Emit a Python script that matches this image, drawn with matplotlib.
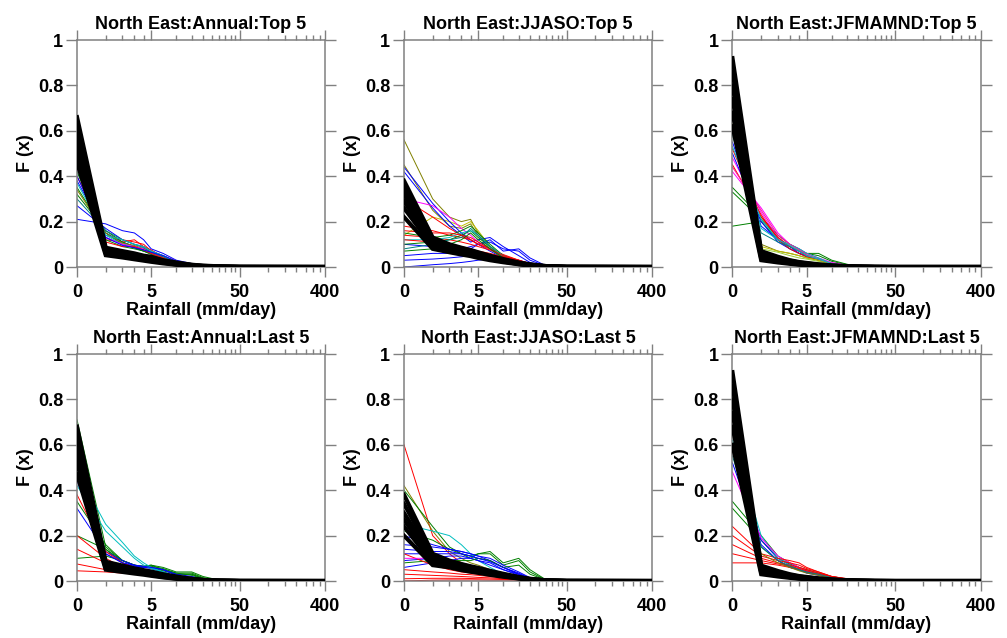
import numpy as np
import matplotlib
matplotlib.use("Agg")
import matplotlib.pyplot as plt

plt.rcParams['font.family'] = ['Liberation Sans', 'DejaVu Sans']

# rainfall bins (mm/day)
rain = [0, 1, 2, 3, 4, 5, 7, 10, 15, 20, 30, 50, 400]

titles = ["North East:Annual:Top 5", "North East:JJASO:Top 5", "North East:JFMAMND:Top 5",
          "North East:Annual:Last 5", "North East:JJASO:Last 5", "North East:JFMAMND:Last 5"]

# ---- Annual : Top 5 ----
annual_top_black = [
    [0.66, 0.085, 0.070, 0.060, 0.050, 0.045, 0.030, 0.020, 0.010, 0.006, 0.003, 0.001, 0],
    [0.62, 0.078, 0.064, 0.054, 0.046, 0.040, 0.027, 0.017, 0.009, 0.005, 0.002, 0.001, 0],
    [0.58, 0.072, 0.058, 0.049, 0.042, 0.036, 0.025, 0.015, 0.008, 0.004, 0.002, 0, 0],
    [0.54, 0.066, 0.053, 0.044, 0.037, 0.032, 0.022, 0.013, 0.006, 0.003, 0.001, 0, 0],
    [0.50, 0.060, 0.048, 0.039, 0.033, 0.028, 0.019, 0.011, 0.005, 0.003, 0.001, 0, 0],
    [0.46, 0.052, 0.042, 0.034, 0.028, 0.023, 0.016, 0.010, 0.005, 0.002, 0.001, 0, 0],
]
annual_top_col = [
    [0.21, 0.19, 0.16, 0.15, 0.12, 0.08, 0.06, 0.03, 0.015, 0.008, 0.003, 0.001, 0],
    [0.27, 0.17, 0.12, 0.10, 0.09, 0.07, 0.05, 0.025, 0.010, 0.005, 0.002, 0, 0],
    [0.38, 0.15, 0.11, 0.09, 0.075, 0.07, 0.045, 0.02, 0.010, 0.004, 0.001, 0, 0],
    [0.47, 0.13, 0.10, 0.085, 0.07, 0.06, 0.04, 0.02, 0.008, 0.004, 0.001, 0, 0],
    [0.40, 0.14, 0.12, 0.11, 0.10, 0.07, 0.05, 0.025, 0.010, 0.005, 0.002, 0, 0],
    [0.44, 0.12, 0.11, 0.12, 0.09, 0.075, 0.045, 0.02, 0.008, 0.004, 0.001, 0, 0],
    [0.32, 0.16, 0.11, 0.09, 0.08, 0.06, 0.04, 0.025, 0.012, 0.006, 0.002, 0, 0],
    [0.35, 0.15, 0.10, 0.085, 0.07, 0.06, 0.04, 0.02, 0.010, 0.005, 0.002, 0, 0],
    [0.42, 0.14, 0.10, 0.09, 0.08, 0.07, 0.05, 0.02, 0.008, 0.003, 0.001, 0, 0],
    [0.34, 0.15, 0.105, 0.095, 0.08, 0.065, 0.045, 0.02, 0.009, 0.004, 0.001, 0, 0],
    [0.43, 0.13, 0.10, 0.09, 0.08, 0.06, 0.04, 0.02, 0.008, 0.004, 0.001, 0, 0],
    [0.30, 0.16, 0.12, 0.10, 0.085, 0.065, 0.045, 0.022, 0.010, 0.005, 0.002, 0, 0],
    [0.42, 0.12, 0.09, 0.08, 0.07, 0.055, 0.035, 0.018, 0.008, 0.004, 0.001, 0, 0],
    [0.45, 0.11, 0.09, 0.09, 0.075, 0.06, 0.04, 0.015, 0.006, 0.003, 0.001, 0, 0],
    [0.37, 0.14, 0.12, 0.10, 0.09, 0.07, 0.05, 0.022, 0.009, 0.004, 0.001, 0, 0],
    [0.40, 0.13, 0.095, 0.085, 0.075, 0.065, 0.05, 0.025, 0.010, 0.004, 0.001, 0, 0],
]
annual_top_colors = ["blue", "blue", "blue", "blue", "red", "red", "green", "green",
                     "c", "olive", "magenta", "teal", "green", "red", "c", "blue"]

# ---- JJASO : Top 5 ----
jjaso_top_black = [
    [0.38, 0.13, 0.100, 0.085, 0.075, 0.065, 0.050, 0.035, 0.020, 0.012, 0.004, 0.001, 0],
    [0.35, 0.12, 0.095, 0.080, 0.070, 0.060, 0.045, 0.032, 0.018, 0.010, 0.004, 0.001, 0],
    [0.32, 0.11, 0.085, 0.075, 0.065, 0.055, 0.042, 0.030, 0.016, 0.009, 0.003, 0.001, 0],
    [0.29, 0.10, 0.080, 0.065, 0.058, 0.050, 0.038, 0.027, 0.015, 0.008, 0.003, 0, 0],
    [0.26, 0.09, 0.070, 0.060, 0.052, 0.045, 0.034, 0.024, 0.013, 0.007, 0.002, 0, 0],
    [0.22, 0.08, 0.065, 0.055, 0.048, 0.040, 0.030, 0.021, 0.012, 0.006, 0.002, 0, 0],
]
jjaso_top_col = [
    [0.56, 0.30, 0.22, 0.20, 0.21, 0.15, 0.09, 0.05, 0.020, 0.008, 0.002, 0, 0],
    [0.45, 0.25, 0.18, 0.17, 0.19, 0.14, 0.08, 0.04, 0.020, 0.008, 0.002, 0, 0],
    [0.14, 0.22, 0.20, 0.18, 0.20, 0.16, 0.09, 0.04, 0.015, 0.006, 0.001, 0, 0],
    [0.44, 0.28, 0.20, 0.15, 0.12, 0.10, 0.07, 0.04, 0.020, 0.008, 0.002, 0, 0],
    [0.42, 0.26, 0.18, 0.14, 0.11, 0.12, 0.13, 0.09, 0.050, 0.020, 0.003, 0, 0],
    [0.10, 0.09, 0.08, 0.08, 0.09, 0.10, 0.11, 0.08, 0.070, 0.030, 0.004, 0, 0],
    [0.05, 0.06, 0.06, 0.07, 0.08, 0.10, 0.12, 0.07, 0.080, 0.040, 0.005, 0, 0],
    [0.03, 0.035, 0.04, 0.045, 0.05, 0.055, 0.05, 0.045, 0.030, 0.015, 0.003, 0, 0],
    [0.0, 0.01, 0.015, 0.02, 0.025, 0.03, 0.035, 0.03, 0.020, 0.010, 0.002, 0, 0],
    [0.30, 0.22, 0.17, 0.14, 0.12, 0.10, 0.08, 0.05, 0.030, 0.015, 0.003, 0, 0],
    [0.18, 0.16, 0.14, 0.13, 0.12, 0.10, 0.08, 0.055, 0.030, 0.012, 0.002, 0, 0],
    [0.14, 0.13, 0.12, 0.11, 0.10, 0.09, 0.075, 0.05, 0.025, 0.010, 0.002, 0, 0],
    [0.30, 0.27, 0.22, 0.17, 0.14, 0.11, 0.08, 0.05, 0.020, 0.008, 0.002, 0, 0],
    [0.15, 0.13, 0.14, 0.16, 0.18, 0.15, 0.10, 0.05, 0.020, 0.007, 0.001, 0, 0],
    [0.10, 0.11, 0.12, 0.14, 0.16, 0.13, 0.09, 0.05, 0.020, 0.008, 0.002, 0, 0],
    [0.12, 0.12, 0.13, 0.15, 0.16, 0.14, 0.09, 0.05, 0.020, 0.008, 0.002, 0, 0],
    [0.08, 0.10, 0.12, 0.13, 0.17, 0.14, 0.09, 0.04, 0.015, 0.006, 0.001, 0, 0],
    [0.12, 0.11, 0.10, 0.09, 0.08, 0.07, 0.06, 0.045, 0.030, 0.015, 0.003, 0, 0],
    [0.16, 0.15, 0.15, 0.14, 0.13, 0.11, 0.08, 0.05, 0.025, 0.010, 0.002, 0, 0],
    [0.07, 0.08, 0.10, 0.12, 0.15, 0.12, 0.08, 0.04, 0.015, 0.006, 0.001, 0, 0],
]
jjaso_top_colors = ["olive", "olive", "y", "blue", "blue", "blue", "blue", "blue", "blue",
                    "red", "red", "red", "magenta", "green", "green", "c", "teal", "red",
                    "red", "green"]

# ---- JFMAMND : Top 5 ----
jfm_top_black = [
    [0.92, 0.070, 0.045, 0.030, 0.022, 0.018, 0.012, 0.007, 0.004, 0.002, 0.001, 0, 0],
    [0.86, 0.060, 0.040, 0.028, 0.020, 0.016, 0.010, 0.006, 0.003, 0.002, 0.001, 0, 0],
    [0.80, 0.052, 0.035, 0.024, 0.018, 0.014, 0.009, 0.005, 0.003, 0.001, 0, 0, 0],
    [0.74, 0.045, 0.030, 0.020, 0.015, 0.012, 0.008, 0.004, 0.002, 0.001, 0, 0, 0],
    [0.68, 0.038, 0.025, 0.017, 0.012, 0.010, 0.006, 0.003, 0.002, 0.001, 0, 0, 0],
    [0.62, 0.030, 0.020, 0.014, 0.010, 0.008, 0.005, 0.003, 0.001, 0.001, 0, 0, 0],
]
jfm_top_col = [
    [0.18, 0.20, 0.12, 0.08, 0.06, 0.05, 0.03, 0.015, 0.006, 0.002, 0, 0, 0],
    [0.35, 0.22, 0.14, 0.10, 0.08, 0.06, 0.06, 0.03, 0.012, 0.004, 0.001, 0, 0],
    [0.33, 0.21, 0.13, 0.09, 0.07, 0.06, 0.05, 0.025, 0.010, 0.003, 0.001, 0, 0],
    [0.42, 0.26, 0.15, 0.10, 0.08, 0.06, 0.04, 0.02, 0.008, 0.003, 0.001, 0, 0],
    [0.48, 0.24, 0.13, 0.09, 0.07, 0.05, 0.035, 0.015, 0.006, 0.002, 0, 0, 0],
    [0.55, 0.18, 0.12, 0.09, 0.06, 0.05, 0.03, 0.015, 0.005, 0.002, 0, 0, 0],
    [0.50, 0.20, 0.11, 0.08, 0.06, 0.045, 0.03, 0.012, 0.005, 0.002, 0, 0, 0],
    [0.60, 0.17, 0.12, 0.10, 0.08, 0.06, 0.04, 0.015, 0.005, 0.002, 0, 0, 0],
    [0.52, 0.22, 0.13, 0.09, 0.07, 0.05, 0.03, 0.012, 0.005, 0.002, 0, 0, 0],
    [0.45, 0.23, 0.12, 0.08, 0.06, 0.045, 0.03, 0.012, 0.005, 0.002, 0, 0, 0],
    [0.68, 0.10, 0.07, 0.06, 0.05, 0.04, 0.03, 0.012, 0.004, 0.001, 0, 0, 0],
    [0.63, 0.09, 0.07, 0.06, 0.05, 0.04, 0.03, 0.015, 0.005, 0.002, 0, 0, 0],
    [0.58, 0.15, 0.11, 0.09, 0.07, 0.05, 0.035, 0.015, 0.005, 0.002, 0, 0, 0],
    [0.60, 0.08, 0.065, 0.05, 0.04, 0.035, 0.025, 0.012, 0.004, 0.001, 0, 0, 0],
    [0.44, 0.25, 0.14, 0.10, 0.075, 0.055, 0.035, 0.015, 0.006, 0.002, 0, 0, 0],
    [0.53, 0.21, 0.12, 0.095, 0.07, 0.05, 0.035, 0.015, 0.005, 0.002, 0, 0, 0],
]
jfm_top_colors = ["green", "green", "green", "magenta", "magenta", "blue", "blue", "c",
                  "red", "red", "olive", "y", "teal", "yellowgreen", "deeppink", "c"]

# ---- Annual : Last 5 ----
annual_last_black = [
    [0.68, 0.085, 0.068, 0.056, 0.048, 0.042, 0.030, 0.020, 0.010, 0.005, 0.002, 0.001, 0],
    [0.64, 0.078, 0.062, 0.051, 0.044, 0.038, 0.027, 0.017, 0.009, 0.004, 0.002, 0, 0],
    [0.60, 0.070, 0.056, 0.046, 0.040, 0.034, 0.024, 0.015, 0.008, 0.004, 0.001, 0, 0],
    [0.56, 0.063, 0.050, 0.042, 0.036, 0.030, 0.021, 0.013, 0.006, 0.003, 0.001, 0, 0],
    [0.52, 0.056, 0.045, 0.037, 0.032, 0.027, 0.018, 0.011, 0.005, 0.002, 0.001, 0, 0],
    [0.47, 0.050, 0.040, 0.033, 0.028, 0.023, 0.016, 0.010, 0.005, 0.002, 0.001, 0, 0],
]
annual_last_col = [
    [0.71, 0.15, 0.09, 0.07, 0.065, 0.07, 0.06, 0.04, 0.040, 0.020, 0.004, 0, 0],
    [0.45, 0.14, 0.09, 0.07, 0.06, 0.065, 0.055, 0.035, 0.035, 0.015, 0.003, 0, 0],
    [0.35, 0.16, 0.09, 0.07, 0.065, 0.07, 0.05, 0.03, 0.030, 0.012, 0.002, 0, 0],
    [0.20, 0.14, 0.08, 0.06, 0.06, 0.06, 0.045, 0.03, 0.030, 0.010, 0.002, 0, 0],
    [0.10, 0.11, 0.09, 0.07, 0.06, 0.06, 0.05, 0.035, 0.025, 0.010, 0.002, 0, 0],
    [0.60, 0.12, 0.08, 0.065, 0.06, 0.055, 0.04, 0.02, 0.010, 0.004, 0.001, 0, 0],
    [0.32, 0.13, 0.09, 0.07, 0.06, 0.06, 0.05, 0.025, 0.010, 0.004, 0.001, 0, 0],
    [0.38, 0.13, 0.08, 0.06, 0.05, 0.04, 0.03, 0.02, 0.010, 0.004, 0.001, 0, 0],
    [0.20, 0.10, 0.06, 0.05, 0.04, 0.035, 0.025, 0.015, 0.008, 0.003, 0.001, 0, 0],
    [0.14, 0.08, 0.05, 0.04, 0.035, 0.03, 0.02, 0.012, 0.006, 0.002, 0, 0, 0],
    [0.075, 0.05, 0.04, 0.035, 0.03, 0.025, 0.02, 0.012, 0.006, 0.002, 0, 0, 0],
    [0.045, 0.04, 0.035, 0.03, 0.025, 0.02, 0.015, 0.01, 0.005, 0.002, 0, 0, 0],
    [0.48, 0.25, 0.17, 0.11, 0.08, 0.06, 0.04, 0.02, 0.008, 0.003, 0.001, 0, 0],
    [0.42, 0.22, 0.15, 0.10, 0.07, 0.055, 0.04, 0.02, 0.008, 0.003, 0.001, 0, 0],
    [0.44, 0.12, 0.08, 0.07, 0.065, 0.06, 0.05, 0.03, 0.020, 0.008, 0.002, 0, 0],
]
annual_last_colors = ["green", "green", "green", "green", "green", "blue", "blue",
                      "red", "red", "red", "red", "red", "c", "c", "blue"]

# ---- JJASO : Last 5 ----
jjaso_last_black = [
    [0.38, 0.12, 0.090, 0.075, 0.065, 0.058, 0.045, 0.032, 0.018, 0.010, 0.003, 0.001, 0],
    [0.34, 0.11, 0.085, 0.070, 0.060, 0.053, 0.041, 0.029, 0.016, 0.009, 0.003, 0.001, 0],
    [0.30, 0.10, 0.080, 0.065, 0.055, 0.048, 0.037, 0.026, 0.014, 0.008, 0.002, 0, 0],
    [0.27, 0.09, 0.070, 0.058, 0.050, 0.044, 0.034, 0.023, 0.013, 0.007, 0.002, 0, 0],
    [0.24, 0.08, 0.065, 0.053, 0.045, 0.040, 0.030, 0.021, 0.012, 0.006, 0.002, 0, 0],
    [0.20, 0.07, 0.060, 0.048, 0.041, 0.036, 0.027, 0.019, 0.011, 0.005, 0.001, 0, 0],
]
jjaso_last_col = [
    [0.60, 0.20, 0.12, 0.08, 0.06, 0.05, 0.03, 0.02, 0.010, 0.004, 0.001, 0, 0],
    [0.42, 0.22, 0.13, 0.10, 0.08, 0.07, 0.05, 0.03, 0.015, 0.005, 0.001, 0, 0],
    [0.40, 0.24, 0.15, 0.12, 0.10, 0.12, 0.13, 0.08, 0.100, 0.050, 0.005, 0, 0],
    [0.22, 0.18, 0.14, 0.12, 0.11, 0.12, 0.12, 0.07, 0.090, 0.040, 0.004, 0, 0],
    [0.25, 0.22, 0.20, 0.16, 0.12, 0.09, 0.06, 0.03, 0.015, 0.005, 0.001, 0, 0],
    [0.20, 0.16, 0.14, 0.13, 0.12, 0.11, 0.10, 0.07, 0.040, 0.015, 0.002, 0, 0],
    [0.16, 0.15, 0.14, 0.13, 0.12, 0.11, 0.09, 0.06, 0.035, 0.012, 0.002, 0, 0],
    [0.12, 0.12, 0.12, 0.12, 0.11, 0.10, 0.09, 0.06, 0.030, 0.010, 0.002, 0, 0],
    [0.09, 0.10, 0.11, 0.11, 0.10, 0.09, 0.08, 0.05, 0.030, 0.010, 0.002, 0, 0],
    [0.06, 0.08, 0.09, 0.10, 0.10, 0.09, 0.07, 0.05, 0.025, 0.008, 0.001, 0, 0],
    [0.08, 0.09, 0.09, 0.09, 0.09, 0.10, 0.09, 0.06, 0.070, 0.030, 0.004, 0, 0],
    [0.05, 0.04, 0.035, 0.03, 0.028, 0.025, 0.02, 0.015, 0.010, 0.005, 0.001, 0, 0],
    [0.03, 0.025, 0.022, 0.02, 0.018, 0.016, 0.014, 0.01, 0.007, 0.004, 0.001, 0, 0],
    [0.01, 0.012, 0.012, 0.012, 0.011, 0.01, 0.009, 0.007, 0.005, 0.003, 0.001, 0, 0],
    [0.0, 0.004, 0.005, 0.005, 0.005, 0.005, 0.004, 0.004, 0.003, 0.002, 0.001, 0, 0],
    [0.12, 0.07, 0.05, 0.04, 0.035, 0.03, 0.025, 0.02, 0.010, 0.005, 0.001, 0, 0],
    [0.10, 0.10, 0.09, 0.08, 0.07, 0.06, 0.05, 0.035, 0.020, 0.008, 0.001, 0, 0],
    [0.14, 0.13, 0.13, 0.12, 0.11, 0.10, 0.085, 0.06, 0.030, 0.010, 0.002, 0, 0],
]
jjaso_last_colors = ["red", "olive", "green", "green", "c", "blue", "blue", "blue", "blue",
                     "blue", "green", "red", "red", "red", "red", "red", "magenta", "blue"]

# ---- JFMAMND : Last 5 ----
jfm_last_black = [
    [0.92, 0.068, 0.044, 0.030, 0.022, 0.018, 0.012, 0.007, 0.004, 0.002, 0.001, 0, 0],
    [0.86, 0.060, 0.039, 0.027, 0.020, 0.016, 0.010, 0.006, 0.003, 0.002, 0.001, 0, 0],
    [0.80, 0.052, 0.034, 0.024, 0.018, 0.014, 0.009, 0.005, 0.003, 0.001, 0, 0, 0],
    [0.74, 0.045, 0.030, 0.020, 0.015, 0.012, 0.008, 0.004, 0.002, 0.001, 0, 0, 0],
    [0.68, 0.038, 0.025, 0.017, 0.012, 0.010, 0.006, 0.003, 0.002, 0.001, 0, 0, 0],
    [0.60, 0.030, 0.020, 0.014, 0.010, 0.008, 0.005, 0.003, 0.001, 0.001, 0, 0, 0],
]
jfm_last_col = [
    [0.75, 0.15, 0.09, 0.06, 0.05, 0.04, 0.03, 0.015, 0.006, 0.002, 0, 0, 0],
    [0.35, 0.20, 0.11, 0.08, 0.06, 0.05, 0.035, 0.02, 0.008, 0.003, 0, 0, 0],
    [0.32, 0.18, 0.10, 0.075, 0.06, 0.045, 0.03, 0.015, 0.006, 0.002, 0, 0, 0],
    [0.58, 0.18, 0.10, 0.07, 0.05, 0.04, 0.03, 0.015, 0.005, 0.002, 0, 0, 0],
    [0.52, 0.16, 0.09, 0.06, 0.05, 0.035, 0.025, 0.012, 0.005, 0.002, 0, 0, 0],
    [0.62, 0.20, 0.10, 0.07, 0.05, 0.04, 0.03, 0.015, 0.005, 0.002, 0, 0, 0],
    [0.48, 0.19, 0.11, 0.08, 0.06, 0.045, 0.03, 0.015, 0.005, 0.002, 0, 0, 0],
    [0.24, 0.12, 0.10, 0.09, 0.08, 0.06, 0.04, 0.02, 0.010, 0.004, 0.001, 0, 0],
    [0.20, 0.11, 0.09, 0.08, 0.07, 0.055, 0.04, 0.02, 0.010, 0.004, 0.001, 0, 0],
    [0.16, 0.10, 0.08, 0.07, 0.06, 0.05, 0.035, 0.02, 0.008, 0.003, 0.001, 0, 0],
    [0.12, 0.09, 0.075, 0.065, 0.055, 0.045, 0.03, 0.018, 0.008, 0.003, 0.001, 0, 0],
    [0.08, 0.08, 0.07, 0.06, 0.05, 0.04, 0.03, 0.015, 0.007, 0.003, 0.001, 0, 0],
    [0.66, 0.12, 0.08, 0.06, 0.045, 0.035, 0.025, 0.012, 0.004, 0.001, 0, 0, 0],
    [0.55, 0.15, 0.09, 0.065, 0.05, 0.04, 0.03, 0.015, 0.005, 0.002, 0, 0, 0],
]
jfm_last_colors = ["green", "green", "green", "blue", "blue", "c", "magenta", "red", "red",
                   "red", "red", "red", "olive", "teal"]

panels = [
    (annual_top_black, annual_top_col, annual_top_colors),
    (jjaso_top_black, jjaso_top_col, jjaso_top_colors),
    (jfm_top_black, jfm_top_col, jfm_top_colors),
    (annual_last_black, annual_last_col, annual_last_colors),
    (jjaso_last_black, jjaso_last_col, jjaso_last_colors),
    (jfm_last_black, jfm_last_col, jfm_last_colors),
]

fig = plt.figure(figsize=(10.07, 6.38), dpi=100)

lefts = [0.0765, 0.4012, 0.7274]
bottoms = [0.5815, 0.0893]
w, h = 0.2463, 0.3558
gray = "#808080"

def fwd(x):
    return np.log10(np.asarray(x, dtype=float) + 1.0)

def inv(y):
    return 10.0 ** np.asarray(y, dtype=float) - 1.0

for i, (blk, col, colors) in enumerate(panels):
    ax = fig.add_axes([lefts[i % 3], bottoms[i // 3], w, h])
    ax.set_xscale('function', functions=(fwd, inv))

    # coloured members
    for ys, c in zip(col, colors):
        ax.plot(rain, ys, color=c, lw=0.7, zorder=2)
    # thick black bundle on top
    for ys in blk:
        ax.plot(rain, ys, color="black", lw=3.0, solid_joinstyle="miter", zorder=3)

    ax.set_xlim(0, 400)
    ax.set_ylim(0, 1)
    ax.set_xticks([0, 5, 50, 400])
    ax.set_xticklabels(["0", "5", "50", "400"])
    ax.set_xticks([1, 2, 3, 4, 10, 15, 20, 25, 30, 35, 40, 45,
                   100, 150, 200, 250, 300, 350], minor=True)
    ax.set_yticks([0, 0.2, 0.4, 0.6, 0.8, 1])
    ax.set_yticklabels(["0", "0.2", "0.4", "0.6", "0.8", "1"])

    for s in ax.spines.values():
        s.set_color(gray)
        s.set_linewidth(1.1)
    ax.tick_params(axis='x', which='major', direction='out', length=7, width=1.0,
                   color=gray, top=True, bottom=True, labelsize=13, pad=5)
    ax.tick_params(axis='x', which='minor', direction='out', length=3.5, width=1.0,
                   color=gray, top=True, bottom=True)
    ax.tick_params(axis='y', which='major', direction='out', length=8, width=1.0,
                   color=gray, left=True, right=True, labelsize=13, pad=2)
    for lab in ax.get_xticklabels() + ax.get_yticklabels():
        lab.set_fontweight('bold')

    ax.set_xlabel("Rainfall (mm/day)", fontsize=13, fontweight='bold', labelpad=1)
    ax.set_ylabel("F (x)", fontsize=13, fontweight='bold', labelpad=3)
    ax.set_title(titles[i], fontsize=13, fontweight='bold', pad=8)

fig.savefig("out.png", dpi=100)
